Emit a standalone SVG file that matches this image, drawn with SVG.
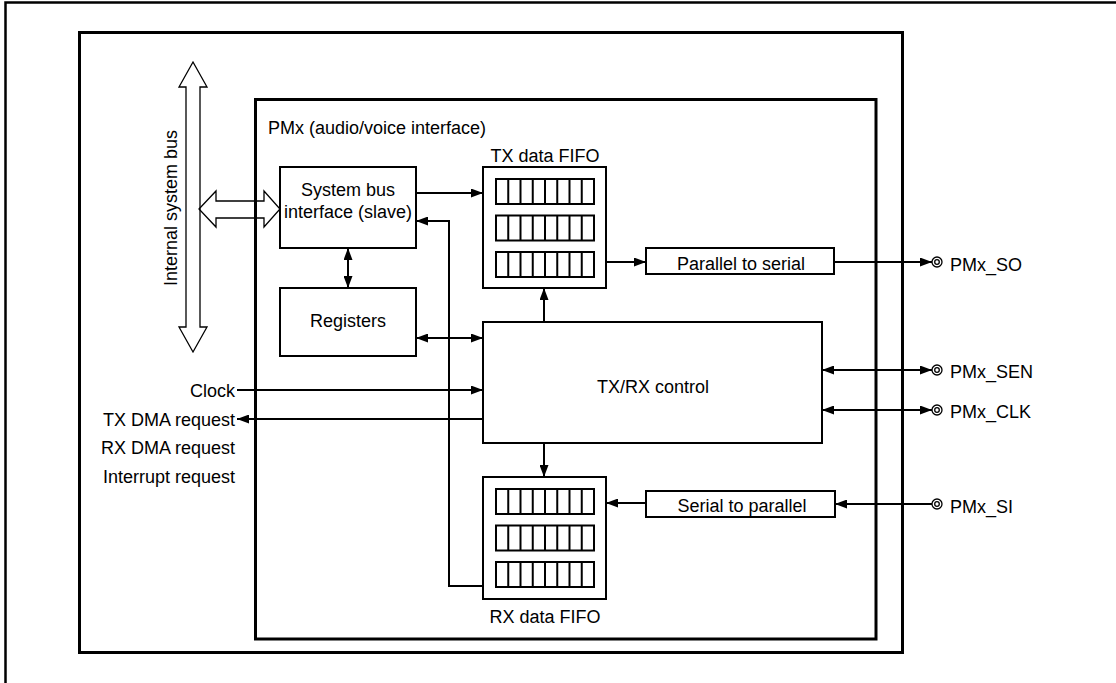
<svg xmlns="http://www.w3.org/2000/svg" width="1116" height="683" viewBox="0 0 1116 683">
<style>
text{font-family:"Liberation Sans",Arial,sans-serif;font-size:18px;fill:#000}
.m{text-anchor:middle}
.e{text-anchor:end}
.box{fill:#fff;stroke:#000;stroke-width:2}
.frame{fill:none;stroke:#000;stroke-width:3}
.cell{fill:none;stroke:#000;stroke-width:2}
.c{fill:none;stroke:#000;stroke-width:2}
.big{fill:none;stroke:#000;stroke-width:1.3}
.pin{fill:#fff;stroke:#000;stroke-width:1.3}
</style>
<defs>
<marker id="ah" markerUnits="userSpaceOnUse" markerWidth="13" markerHeight="9" refX="12" refY="4.5" orient="auto-start-reverse">
<path d="M0,0 L12,4.5 L0,9 z" fill="#000"/>
</marker>
<g id="fiforow">
<rect x="0" y="0" width="98" height="25" class="cell"/>
<path d="M12.25,0v25M24.5,0v25M36.75,0v25M49,0v25M61.25,0v25M73.5,0v25M85.75,0v25" class="cell"/>
</g>
</defs>

<g id="page">
<path d="M5.5,683 V2.5 H1116" fill="none" stroke="#000" stroke-width="2.5"/>
</g>

<g id="outer">
<rect x="79.5" y="32.5" width="823" height="620" class="frame"/>
</g>

<g id="pmx">
<rect x="255.5" y="99.5" width="620.5" height="539.5" class="frame" stroke-width="2.5"/>
<text x="268" y="134">PMx (audio/voice interface)</text>
</g>

<g id="bus">
<polygon points="193,62 207,87 200,87 200,327 207,327 193,352 179,327 186,327 186,87 179,87" class="big"/>
<text transform="translate(177,208) rotate(-90)" class="m">Internal system bus</text>
</g>

<g id="busconn">
<polygon points="199,209 216,191 216,201 264,201 264,191 280,209 264,227 264,218 216,218 216,227" class="big"/>
</g>

<g id="sbi">
<rect x="280" y="167" width="136" height="81" class="box"/>
<text x="348" y="196" class="m">System bus</text>
<text x="348" y="218" class="m">interface (slave)</text>
</g>

<g id="registers">
<rect x="280" y="288" width="136" height="68" class="box"/>
<text x="348" y="327" class="m">Registers</text>
</g>

<g id="txfifo">
<rect x="483" y="167" width="123" height="121" class="box"/>
<use href="#fiforow" x="496" y="179"/>
<use href="#fiforow" x="496" y="215.5"/>
<use href="#fiforow" x="496" y="252"/>
<text x="545" y="162" class="m">TX data FIFO</text>
</g>

<g id="rxfifo">
<rect x="483" y="477" width="123" height="122" class="box"/>
<use href="#fiforow" x="496" y="489"/>
<use href="#fiforow" x="496" y="525.5"/>
<use href="#fiforow" x="496" y="562"/>
<text x="545" y="623" class="m">RX data FIFO</text>
</g>

<g id="p2s">
<rect x="646" y="248" width="188" height="26" class="box"/>
<text x="741" y="270" class="m">Parallel to serial</text>
</g>

<g id="s2p">
<rect x="646" y="491" width="189" height="26" class="box"/>
<text x="742" y="512" class="m">Serial to parallel</text>
</g>

<g id="control">
<rect x="483" y="322" width="339" height="121" class="box"/>
<text x="653" y="393" class="m">TX/RX control</text>
</g>

<g id="signals">
<text x="235" y="397" class="e">Clock</text>
<text x="235" y="426" class="e">TX DMA request</text>
<text x="235" y="454" class="e">RX DMA request</text>
<text x="235" y="483" class="e">Interrupt request</text>
</g>

<g id="connectors">
<path d="M416,193 H483" class="c" marker-end="url(#ah)"/>
<path d="M606,262 H646" class="c" marker-end="url(#ah)"/>
<path d="M834,262 H932" class="c" marker-end="url(#ah)"/>
<path d="M544,322 V288" class="c" marker-end="url(#ah)"/>
<path d="M416,338 H483" class="c" marker-start="url(#ah)" marker-end="url(#ah)"/>
<path d="M348,248 V288" class="c" marker-start="url(#ah)" marker-end="url(#ah)"/>
<path d="M483,586 H449 V221 H416" class="c" marker-end="url(#ah)"/>
<path d="M237,390 H483" class="c" marker-end="url(#ah)"/>
<path d="M483,419 H237" class="c" marker-end="url(#ah)"/>
<path d="M822,370 H932" class="c" marker-start="url(#ah)" marker-end="url(#ah)"/>
<path d="M822,410 H932" class="c" marker-start="url(#ah)" marker-end="url(#ah)"/>
<path d="M544,443 V477" class="c" marker-end="url(#ah)"/>
<path d="M932,504 H835" class="c" marker-end="url(#ah)"/>
<path d="M646,503 H606" class="c" marker-end="url(#ah)"/>
</g>

<g id="pin-so">
<circle cx="937" cy="262" r="5" class="pin"/><circle cx="937" cy="262" r="2.3" class="pin"/>
<text x="950" y="271">PMx_SO</text>
</g>
<g id="pin-sen">
<circle cx="937" cy="370" r="5" class="pin"/><circle cx="937" cy="370" r="2.3" class="pin"/>
<text x="950" y="378">PMx_SEN</text>
</g>
<g id="pin-clk">
<circle cx="937" cy="410" r="5" class="pin"/><circle cx="937" cy="410" r="2.3" class="pin"/>
<text x="950" y="418">PMx_CLK</text>
</g>
<g id="pin-si">
<circle cx="937" cy="504" r="5" class="pin"/><circle cx="937" cy="504" r="2.3" class="pin"/>
<text x="950" y="513">PMx_SI</text>
</g>
</svg>
